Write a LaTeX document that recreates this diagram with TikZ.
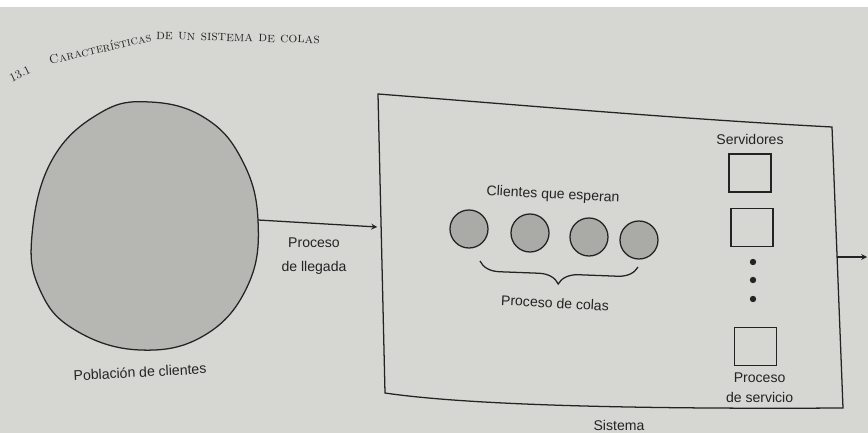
\documentclass[tikz,border=0pt]{standalone}
\usepackage{fontspec}
\setsansfont{Liberation Sans}
\usepackage{tikz}
\usetikzlibrary{arrows,positioning,calc,decorations.pathreplacing}

\definecolor{pagegray}{RGB}{214,214,210}
\definecolor{popgray}{RGB}{182,182,179}
\definecolor{clgray}{RGB}{170,170,167}
\definecolor{ink}{RGB}{35,35,35}

\begin{document}
\begin{tikzpicture}[>=stealth,
	client/.style={circle, draw=ink, fill=clgray, line width=0.9pt, inner sep=0pt, minimum size=0.95cm},
	server/.style={rectangle, draw=ink, line width=0.9pt, inner sep=0pt, minimum width=1.05cm, minimum height=0.95cm},
	dotpt/.style={circle, fill=ink, inner sep=0pt, minimum size=1.6mm},
	lbl/.style={font=\sffamily\fontsize{10}{12}\selectfont, text=ink, inner sep=1pt}]
		% page
		\fill [pagegray] (0,0) rectangle (21.7,10.825);
		\fill [white] (0,10.65) rectangle (21.7,10.825);
		\useasboundingbox (0,0) rectangle (21.7,10.825);

		% running head
		\node (h1) at (0.5,8.98) [rotate=26, text=ink, inner sep=0pt] {\fontsize{8.5}{9}\selectfont 13.1};
		\node (h2) at (2.5,9.62) [rotate=13, text=ink, inner sep=0pt] {\fontsize{9}{11}\selectfont\textsc{Caracter\'isticas}};
		\node (h3) at (5.95,9.88) [rotate=-1.5, text=ink, inner sep=0pt] {\fontsize{10}{12}\selectfont\textsc{de un sistema de colas}};

		% poblacion
		\draw [ink, line width=0.9pt, fill=popgray] plot [smooth cycle, tension=0.7] coordinates
			{(0.8,4.95) (1.3,6.825) (2.5,8.0) (3.75,8.275) (5.125,7.875) (6.05,6.825) (6.45,5.325) (6.2,3.7) (5.125,2.45) (3.5,2.075) (1.875,2.575) (1.0,3.575)};
		\coordinate (popout) at (6.45,5.325);
		\node (pop) at (3.5,1.525) [lbl, rotate=3] {Poblaci\'on de clientes};

		% sistema
		\begin{scope}
			\draw [ink, line width=0.9pt] (9.45,8.475) .. controls (13,8.2) and (17,7.85) .. (20.8,7.65)
				-- (21.075,0.625) .. controls (17,0.6) and (12,0.65) .. (9.625,1.0) -- cycle;
			\coordinate (sysin) at (9.43,5.15);
			\coordinate (sysout) at (20.93,4.4);
			\coordinate (exit) at (21.68,4.4);

			\node (q1) at (11.725,5.1) [client] {};
			\node (q2) at (13.25,5.0) [client] {};
			\node (q3) at (14.725,4.9) [client] {};
			\node (q4) at (15.975,4.825) [client] {};
			\node (wait) at (13.825,5.95) [lbl, rotate=-3] {Clientes que esperan};
			\draw [ink, line width=0.9pt, decorate, decoration={brace, mirror, amplitude=0.5cm}] (12.0,4.3) -- (15.95,4.15);
			\node (cola) at (13.875,3.25) [lbl, rotate=-3] {Proceso de colas};

			\node (srv) at (18.75,7.35) [lbl] {Servidores};
			\node (s1) at (18.75,6.5) [server] {};
			\node (s2) at (18.8,5.14) [server] {};
			\node (s3) at (18.89,2.16) [server] {};
			\node (d1) at (18.825,4.275) [dotpt] {};
			\node (d2) at (18.825,3.825) [dotpt] {};
			\node (d3) at (18.825,3.35) [dotpt] {};
			\node (serv) at (18.99,1.125) [lbl, align=center, font=\sffamily\fontsize{10}{14}\selectfont] {Proceso\\de servicio};
			\node (sis) at (15.475,0.2) [lbl] {Sistema};
		\end{scope}

		% llegada y salida
		\draw [ink, line width=0.9pt, ->] (popout) -- (sysin);
		\node (lleg) at (7.85,4.425) [lbl, align=center, font=\sffamily\fontsize{10}{17}\selectfont] {Proceso\\de llegada};
		\draw [ink, line width=0.9pt, ->] (sysout) -- (exit);
	\end{tikzpicture}
\end{document}
